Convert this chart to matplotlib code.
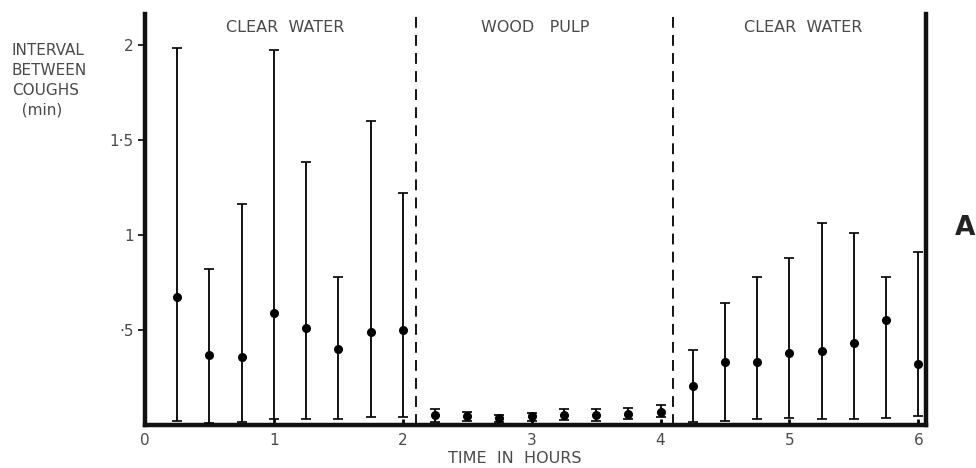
import numpy as np
import matplotlib.pyplot as plt

plt.rcParams["font.family"] = ["DejaVu Sans"]

# sampling times (hours)
times_water1 = [0.25, 0.5, 0.75, 1.0, 1.25, 1.5, 1.75, 2.0]
times_pulp = [2.25, 2.5, 2.75, 3.0, 3.25, 3.5, 3.75, 4.0]
times_water2 = [4.25, 4.5, 4.75, 5.0, 5.25, 5.5, 5.75, 6.0]

# mean interval between coughs (min) with range limits
mean_water1 = [0.675, 0.37, 0.36, 0.59, 0.51, 0.40, 0.49, 0.50]
high_water1 = [1.98, 0.82, 1.16, 1.97, 1.38, 0.78, 1.60, 1.22]
low_water1 = [0.02, 0.01, 0.015, 0.03, 0.03, 0.03, 0.04, 0.04]

mean_pulp = [0.053, 0.049, 0.035, 0.047, 0.053, 0.053, 0.06, 0.07]
high_pulp = [0.084, 0.07, 0.054, 0.065, 0.083, 0.084, 0.089, 0.103]
low_pulp = [0.014, 0.023, 0.017, 0.023, 0.026, 0.023, 0.03, 0.04]

mean_water2 = [0.205, 0.333, 0.33, 0.377, 0.39, 0.43, 0.55, 0.32]
high_water2 = [0.395, 0.64, 0.78, 0.88, 1.06, 1.01, 0.78, 0.91]
low_water2 = [0.015, 0.02, 0.03, 0.035, 0.03, 0.03, 0.035, 0.047]

phase_labels = ["CLEAR  WATER", "WOOD   PULP", "CLEAR  WATER"]
phase_label_x = [1.09, 3.03, 5.11]
phase_bounds = [2.1, 4.1]

ytick_vals = [0.5, 1, 1.5, 2]
ytick_text = ["·5", "1", "1·5", "2"]
xtick_vals = [0, 1, 2, 3, 4, 5, 6]

text_col = "#4a4a4a"

fig = plt.figure(figsize=(9.76, 4.68), dpi=100)
ax = fig.add_axes([0.1486, 0.0919, 0.8002, 0.878])

for t, m, hi, lo in [
    (times_water1, mean_water1, high_water1, low_water1),
    (times_pulp, mean_pulp, high_pulp, low_pulp),
    (times_water2, mean_water2, high_water2, low_water2),
]:
    m = np.array(m)
    yerr = [m - np.array(lo), np.array(hi) - m]
    ax.errorbar(t, m, yerr=yerr, fmt="o", color="black", ms=5.5,
                elinewidth=1.3, capsize=3.5, capthick=1.2, zorder=3)

for xb in phase_bounds:
    ax.axvline(xb, color="black", lw=1.3, linestyle=(0, (6, 4)), zorder=1)

for lbl, xl in zip(phase_labels, phase_label_x):
    ax.text(xl, 2.09, lbl, ha="center", va="center", fontsize=11.5,
            color=text_col)

ax.set_xlim(0, 6.06)
ax.set_ylim(0, 2.16)

ax.spines["top"].set_visible(False)
for side in ["left", "bottom", "right"]:
    ax.spines[side].set_linewidth(3.2)
    ax.spines[side].set_color("#111111")

ax.set_yticks(ytick_vals)
ax.set_yticklabels(ytick_text)
ax.set_xticks(xtick_vals)
ax.tick_params(axis="y", direction="out", length=5, width=1.2,
               labelsize=11, labelcolor=text_col, pad=3)
ax.tick_params(axis="x", direction="in", length=4, width=2,
               labelsize=11, labelcolor=text_col, pad=6)

fig.text(0.527, 0.021, "TIME  IN  HOURS", ha="center", va="center",
         fontsize=11.5, color=text_col)

fig.text(0.012, 0.908, "INTERVAL\nBETWEEN\nCOUGHS\n  (min)", ha="left",
         va="top", fontsize=11, color=text_col, linespacing=1.4)
fig.text(0.989, 0.512, "A", ha="center", va="center", fontsize=19,
         fontweight="bold", color="#222222")

fig.savefig("out.png", dpi=100)
